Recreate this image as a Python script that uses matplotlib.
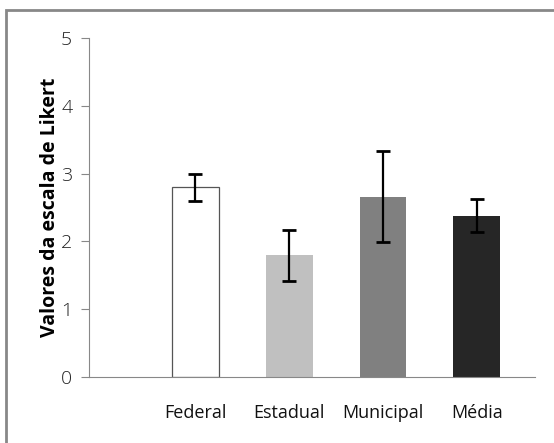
import numpy as np
import matplotlib
matplotlib.use("Agg")
import matplotlib.pyplot as plt
from matplotlib.patches import Rectangle

# dados
categorias = ["Federal", "Estadual", "Municipal", "Média"]
medias = [2.80, 1.80, 2.66, 2.38]
erro_inf = [0.20, 0.38, 0.67, 0.24]
erro_sup = [0.20, 0.37, 0.67, 0.24]
cores = ["white", "#c0c0c0", "#808080", "#262626"]

plt.rcParams["font.family"] = ["Open Sans", "DejaVu Sans"]

fig = plt.figure(figsize=(5.54, 4.43), dpi=100)
ax = fig.add_axes([0.1606, 0.1497, 0.966 - 0.1606, 0.9135 - 0.1497])

x = np.arange(len(categorias))
ax.bar(x, medias, width=0.5, color=cores, edgecolor=["#555555", "none", "none", "none"],
       linewidth=0.9, zorder=2)
ax.errorbar(x, medias, yerr=[erro_inf, erro_sup], fmt="none", ecolor="black",
            elinewidth=1.6, capsize=5, capthick=2, zorder=3)

ax.set_xlim(-1.13, 3.62)
ax.set_ylim(0, 5)
ax.set_yticks(range(6))
ax.set_xticks(x)
ax.set_xticklabels(categorias, fontsize=13, color="#111111")
ax.tick_params(axis="x", length=0, pad=20)
ax.tick_params(axis="y", length=6, color="#888888", labelsize=14, pad=6, labelcolor="#222222")
for t in ax.get_yticklabels():
    t.set_fontweight("light")
ax.spines["top"].set_visible(False)
ax.spines["right"].set_visible(False)
ax.spines["left"].set_color("#888888")
ax.spines["bottom"].set_color("#888888")
ax.set_ylabel("Valores da escala de Likert", fontsize=14, fontweight="bold", labelpad=1)

# moldura externa
fig.patches.append(Rectangle((6 / 554, -0.05), 1.1, 1 - 10 / 443 + 0.05,
                             transform=fig.transFigure, fill=False,
                             edgecolor="#888888", linewidth=2))

fig.savefig("out.png", dpi=100)
